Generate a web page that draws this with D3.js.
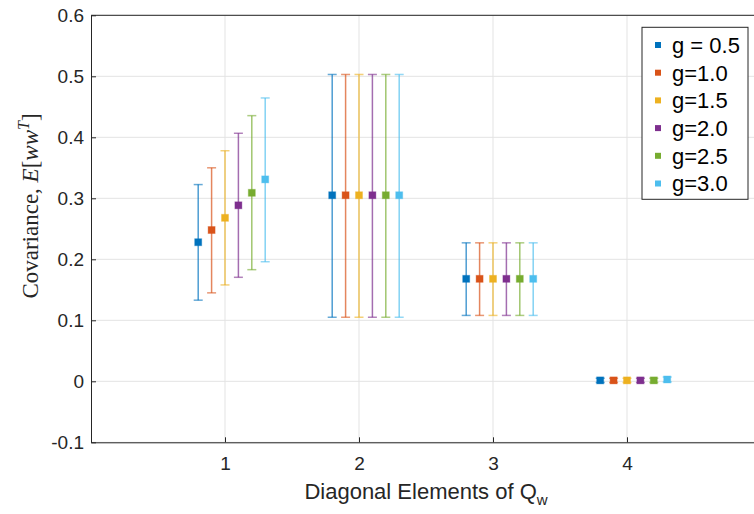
<!DOCTYPE html>
<html>
<head>
<meta charset="utf-8">
<script src="https://cdn.jsdelivr.net/npm/d3@7"></script>
<style>
  html, body { margin: 0; padding: 0; background: #fff; }
  svg { display: block; }
</style>
</head>
<body>
<svg id="chart" width="754" height="514"></svg>
<script>
// Diagonal element index of Q_w
const categories = [1, 2, 3, 4];

// One series per gain setting
const seriesNames = ["g = 0.5", "g=1.0", "g=1.5", "g=2.0", "g=2.5", "g=3.0"];
const seriesColors = ["#0072BD", "#D95319", "#EDB120", "#7E2F8E", "#77AC30", "#4DBEEE"];
const seriesOffsets = [-0.2, -0.1, 0, 0.1, 0.2, 0.3];

// Mean covariance per series, one value per diagonal element
const meanG05 = [0.228, 0.305, 0.168, 0.0015];
const meanG10 = [0.248, 0.305, 0.168, 0.0015];
const meanG15 = [0.268, 0.305, 0.168, 0.0015];
const meanG20 = [0.2885, 0.305, 0.168, 0.0015];
const meanG25 = [0.309, 0.305, 0.168, 0.0015];
const meanG30 = [0.331, 0.305, 0.168, 0.003];

// Upper ends of the error bars
const upperG05 = [0.3225, 0.503, 0.227, 0.005];
const upperG10 = [0.350, 0.503, 0.227, 0.005];
const upperG15 = [0.378, 0.503, 0.227, 0.005];
const upperG20 = [0.4066, 0.503, 0.227, 0.005];
const upperG25 = [0.4355, 0.503, 0.227, 0.005];
const upperG30 = [0.4645, 0.503, 0.227, 0.007];

// Lower ends of the error bars
const lowerG05 = [0.133, 0.105, 0.108, -0.002];
const lowerG10 = [0.145, 0.105, 0.108, -0.002];
const lowerG15 = [0.158, 0.105, 0.108, -0.002];
const lowerG20 = [0.1705, 0.105, 0.108, -0.002];
const lowerG25 = [0.183, 0.105, 0.108, -0.002];
const lowerG30 = [0.196, 0.105, 0.108, -0.001];

const yTicks = [-0.1, 0, 0.1, 0.2, 0.3, 0.4, 0.5, 0.6];
const yTickLabels = ["-0.1", "0", "0.1", "0.2", "0.3", "0.4", "0.5", "0.6"];
const xTicks = [1, 2, 3, 4];

const means = [meanG05, meanG10, meanG15, meanG20, meanG25, meanG30];
const uppers = [upperG05, upperG10, upperG15, upperG20, upperG25, upperG30];
const lowers = [lowerG05, lowerG10, lowerG15, lowerG20, lowerG25, lowerG30];

const svg = d3.select("#chart");
const plotL = 91, plotT = 15.3, plotR = 761, plotB = 442.3;

const x = d3.scaleLinear().domain([0, 5]).range([plotL, plotR]);
const y = d3.scaleLinear().domain([-0.1, 0.6]).range([plotB, plotT]);

const axisColor = "#262626";
const sansFont = "'Liberation Sans', Arial, Helvetica, sans-serif";
const serifFont = "'Liberation Serif', 'DejaVu Serif', 'Times New Roman', serif";

// Grid lines
const grid = svg.append("g");
grid.selectAll("line.gy").data(yTicks).join("line")
  .attr("x1", plotL).attr("x2", plotR)
  .attr("y1", d => y(d)).attr("y2", d => y(d))
  .attr("stroke", "#e3e3e3").attr("stroke-width", 1);
grid.selectAll("line.gx").data(xTicks).join("line")
  .attr("x1", d => x(d)).attr("x2", d => x(d))
  .attr("y1", plotT).attr("y2", plotB)
  .attr("stroke", "#e3e3e3").attr("stroke-width", 1);

// Axes (ticks point inward)
const yAxis = d3.axisLeft(y).tickValues(yTicks)
  .tickFormat((d, i) => yTickLabels[i]).tickSizeInner(-5).tickSizeOuter(0).tickPadding(7);
const xAxis = d3.axisBottom(x).tickValues(xTicks)
  .tickFormat(d3.format("d")).tickSizeInner(-5).tickSizeOuter(0).tickPadding(14);

const gy = svg.append("g").attr("transform", `translate(${plotL},0)`).call(yAxis);
const gx = svg.append("g").attr("transform", `translate(0,${plotB})`).call(xAxis);
[gx, gy].forEach(g => {
  g.select(".domain").attr("stroke", axisColor).attr("stroke-width", 1);
  g.selectAll(".tick line").attr("stroke", axisColor).attr("stroke-width", 1);
  g.selectAll(".tick text").attr("fill", axisColor)
    .style("font-family", sansFont).style("font-size", "19px");
});
// top edge of the box
svg.append("line").attr("x1", plotL).attr("x2", plotR).attr("y1", plotT).attr("y2", plotT)
  .attr("stroke", axisColor).attr("stroke-width", 1);

// Error bars and markers
const capHalf = 4.5, mSize = 7;
const plot = svg.append("g");
seriesNames.forEach((name, s) => {
  const g = plot.append("g");
  const pts = categories.map((c, i) => ({
    cx: x(c + seriesOffsets[s]),
    m: means[s][i], lo: lowers[s][i], hi: uppers[s][i]
  }));
  const col = seriesColors[s];
  g.selectAll("line.stem").data(pts).join("line")
    .attr("x1", d => d.cx).attr("x2", d => d.cx)
    .attr("y1", d => y(d.lo)).attr("y2", d => y(d.hi))
    .attr("stroke", col).attr("stroke-opacity", 0.7).attr("stroke-width", 1.5);
  ["lo", "hi"].forEach(k => {
    g.selectAll("line.cap" + k).data(pts).join("line")
      .attr("x1", d => d.cx - capHalf).attr("x2", d => d.cx + capHalf)
      .attr("y1", d => y(d[k])).attr("y2", d => y(d[k]))
      .attr("stroke", col).attr("stroke-opacity", 0.6).attr("stroke-width", 1.5);
  });
  g.selectAll("rect").data(pts).join("rect")
    .attr("x", d => d.cx - mSize / 2).attr("y", d => y(d.m) - mSize / 2)
    .attr("width", mSize).attr("height", mSize)
    .attr("fill", col).attr("stroke", col).attr("stroke-opacity", 0.35).attr("stroke-width", 1);
});

// Legend
const lg = svg.append("g");
const lx = 642, ly = 27.3, lw = 106, lh = 172;
lg.append("rect").attr("x", lx).attr("y", ly).attr("width", lw).attr("height", lh)
  .attr("fill", "#fff").attr("stroke", axisColor).attr("stroke-width", 1);
seriesNames.forEach((name, s) => {
  const cy = 45 + s * 27.7;
  lg.append("rect").attr("x", 658 - 3).attr("y", cy - 3).attr("width", 6).attr("height", 6)
    .attr("fill", seriesColors[s]);
  lg.append("text").attr("x", 672).attr("y", cy).attr("dy", "0.36em")
    .attr("fill", "#000").style("font-family", sansFont).style("font-size", "22px")
    .text(name);
});

// X axis title with subscript
const xt = svg.append("text").attr("x", (plotL + plotR) / 2).attr("y", 499)
  .attr("text-anchor", "middle").attr("fill", axisColor)
  .style("font-family", sansFont).style("font-size", "22px");
xt.append("tspan").text("Diagonal Elements of Q");
xt.append("tspan").attr("dy", 6).style("font-size", "15px").text("w");

// Y axis title: Covariance, E[ww^T]
const yt = svg.append("text")
  .attr("transform", `translate(38,206) rotate(-90)`)
  .attr("text-anchor", "middle").attr("fill", axisColor)
  .style("font-family", serifFont).style("font-size", "23px");
yt.append("tspan").text("Covariance, ");
yt.append("tspan").style("font-style", "italic").text("E");
yt.append("tspan").text("[");
yt.append("tspan").style("font-style", "italic").text("ww");
yt.append("tspan").attr("dy", -9).style("font-style", "italic").style("font-size", "16px").text("T");
yt.append("tspan").attr("dy", 9).text("]");
</script>
</body>
</html>
